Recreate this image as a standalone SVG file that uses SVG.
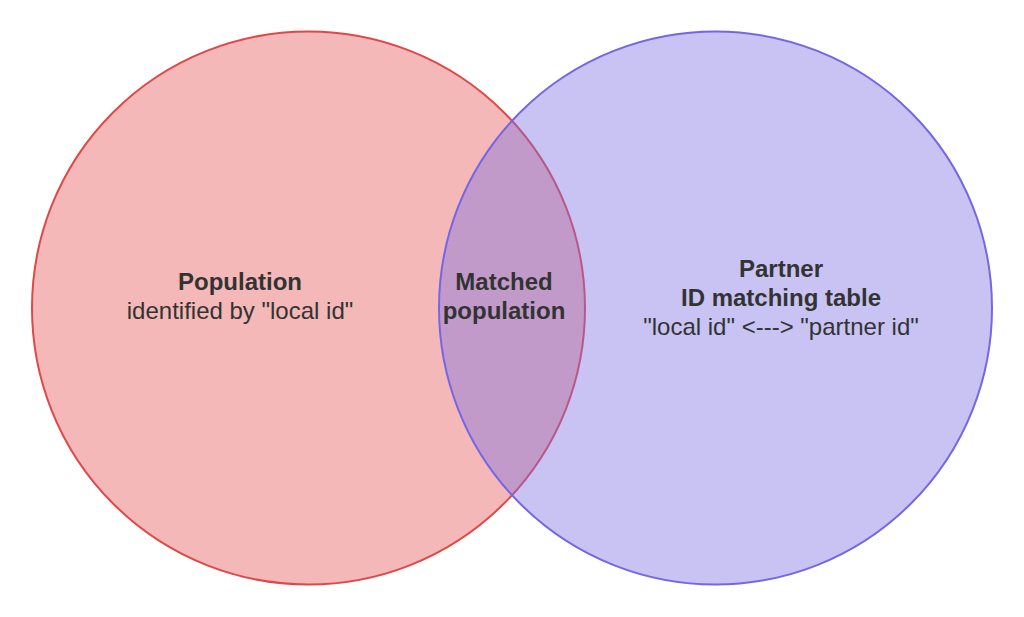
<svg xmlns="http://www.w3.org/2000/svg" width="1024" height="617" viewBox="0 0 1024 617">
<style>
text{font-family:"Liberation Sans",Arial,sans-serif;font-size:24px;fill:#333333;text-anchor:middle}
.b{font-weight:bold}
</style>
<rect width="1024" height="617" fill="#ffffff"/>
<g id="population">
<circle cx="308.5" cy="308" r="276.5" fill="#F4B8B8" stroke="#E04848" stroke-width="2"/>
</g>
<g id="partner">
<circle cx="715.5" cy="308" r="276.5" fill="#7C70E2" fill-opacity="0.42" stroke="#7566E6" stroke-width="2"/>
</g>
<g id="labels">
<text class="b" x="240" y="290">Population</text>
<text x="240" y="319">identified by "local id"</text>
<text class="b" x="504" y="290">Matched</text>
<text class="b" x="504" y="319">population</text>
<text class="b" x="781" y="277">Partner</text>
<text class="b" x="781" y="306">ID matching table</text>
<text x="781" y="335">"local id" &lt;---&gt; "partner id"</text>
</g>
</svg>
